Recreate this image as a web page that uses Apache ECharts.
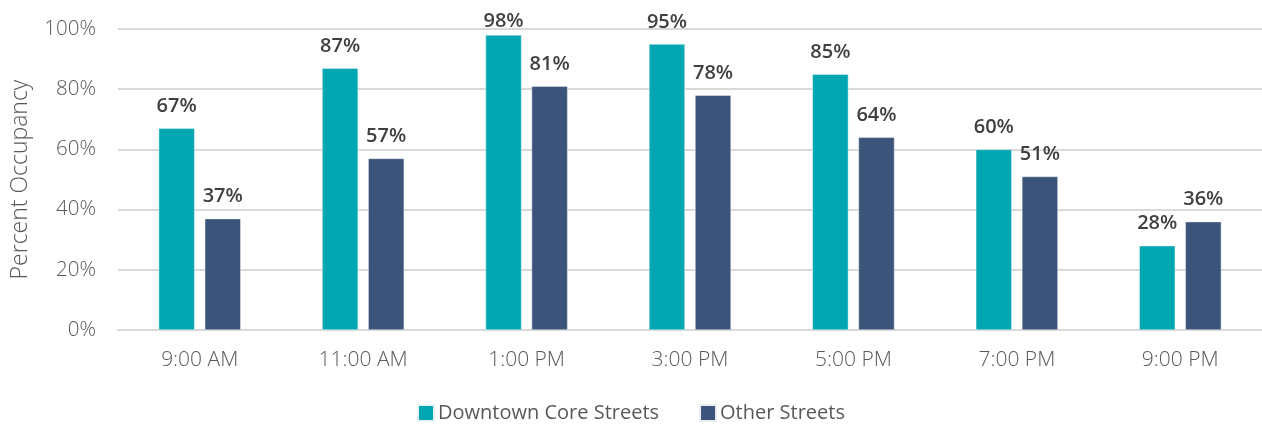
<!DOCTYPE html>
<html>
<head>
<meta charset="utf-8">
<script src="https://cdn.jsdelivr.net/npm/echarts@6/dist/echarts.min.js"></script>
<style>
  html, body { margin: 0; padding: 0; background: #fff; }
  #chart { width: 1262px; height: 428px; }
</style>
</head>
<body>
<div id="chart"></div>
<script>
// Parking occupancy by time of day
const timeSlots = ['9:00 AM', '11:00 AM', '1:00 PM', '3:00 PM', '5:00 PM', '7:00 PM', '9:00 PM'];
const downtownCore = [67, 87, 98, 95, 85, 60, 28];
const otherStreets = [37, 57, 81, 78, 64, 51, 36];
const seriesNames = ['Downtown Core Streets', 'Other Streets'];
const yTicks = [0, 20, 40, 60, 80, 100];

const FONT = '"Open Sans", sans-serif';
const GRID_COLOR = '#D9D9D9';
const AXIS_TEXT = '#595959';
// value labels are kept from running off the top edge of the chart
const LABEL_MIN_TOP = 11;

const chart = echarts.init(document.getElementById('chart'), null, { renderer: 'canvas' });

const labelStyle = {
  show: true,
  position: 'top',
  distance: 12,
  formatter: p => p.value + '%',
  fontFamily: FONT,
  fontSize: 20,
  fontWeight: 600,
  color: '#404040'
};

const keepInside = p => (p.labelRect.y < LABEL_MIN_TOP ? { dy: LABEL_MIN_TOP - p.labelRect.y } : {});

chart.setOption({
  animation: false,
  textStyle: { fontFamily: FONT },
  grid: {
    left: 118, right: 0, top: 29, bottom: 98,
    containLabel: false,
    outerBoundsMode: 'none'
  },
  legend: {
    data: seriesNames,
    bottom: 0,
    left: 'center',
    itemWidth: 16,
    itemHeight: 16,
    itemGap: 40,
    icon: 'rect',
    textStyle: { fontFamily: FONT, fontSize: 20, color: AXIS_TEXT, padding: [0, 0, 0, -1] }
  },
  xAxis: {
    type: 'category',
    data: timeSlots,
    axisLine: { show: true, lineStyle: { color: GRID_COLOR, width: 2 } },
    axisTick: { show: false },
    axisLabel: { fontFamily: FONT, fontSize: 21, fontWeight: 300, color: AXIS_TEXT, margin: 20 }
  },
  yAxis: {
    type: 'value',
    min: yTicks[0],
    max: yTicks[yTicks.length - 1],
    interval: yTicks[1] - yTicks[0],
    name: 'Percent Occupancy',
    nameLocation: 'middle',
    nameGap: 86,
    nameTextStyle: { fontFamily: FONT, fontSize: 23, fontWeight: 300, color: AXIS_TEXT },
    axisLine: { show: false },
    axisTick: { show: false },
    axisLabel: { fontFamily: FONT, fontSize: 20.5, fontWeight: 300, color: AXIS_TEXT, margin: 22, formatter: v => v + '%' },
    splitLine: { lineStyle: { color: GRID_COLOR, width: 2 } }
  },
  series: [
    {
      name: seriesNames[0],
      type: 'bar',
      data: downtownCore,
      barWidth: 36,
      barGap: '28%',
      itemStyle: { color: '#00A6B1', borderColor: '#E6F4F5', borderWidth: 0.5 },
      label: labelStyle,
      labelLayout: keepInside
    },
    {
      name: seriesNames[1],
      type: 'bar',
      data: otherStreets,
      barWidth: 36,
      itemStyle: { color: '#3C5479', borderColor: '#E8ECF1', borderWidth: 0.5 },
      label: labelStyle,
      labelLayout: keepInside
    }
  ]
});
</script>
</body>
</html>
